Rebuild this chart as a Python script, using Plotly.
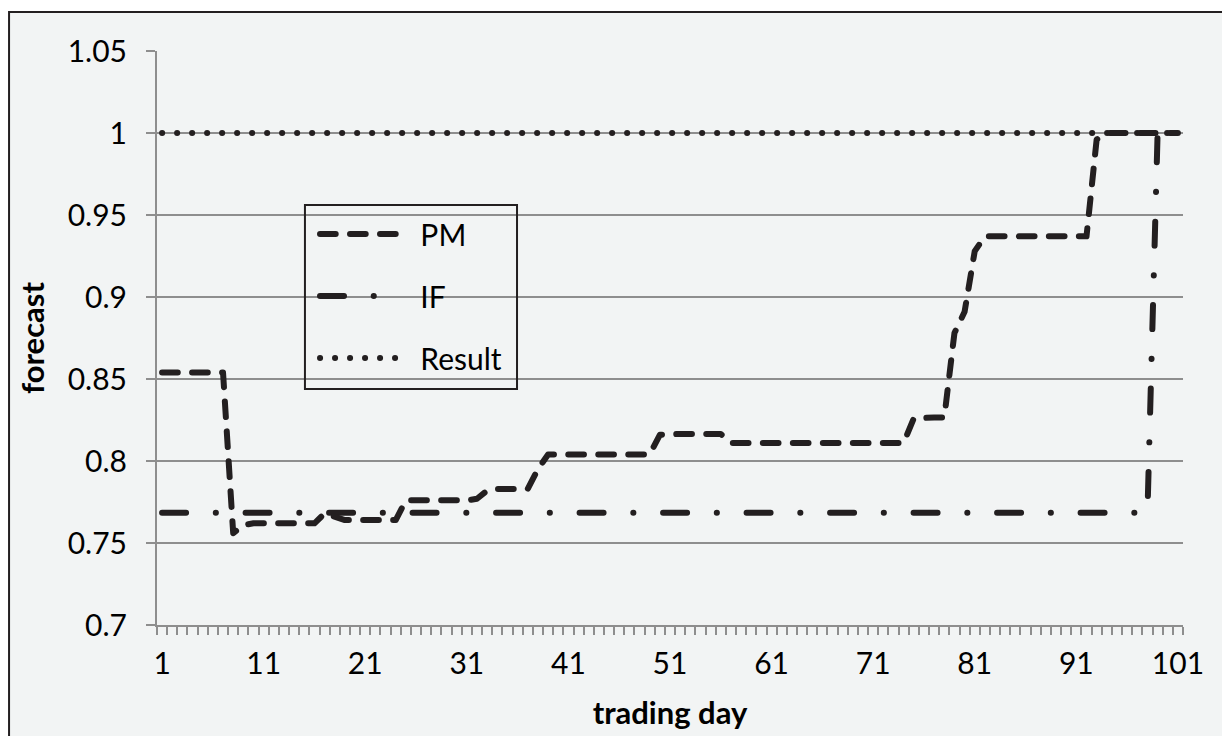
import plotly.graph_objects as go

days = list(range(1, 102))

pm = [0.854, 0.854, 0.854, 0.854, 0.854, 0.854, 0.854, 0.756, 0.761, 0.762,
      0.762, 0.762, 0.762, 0.762, 0.762, 0.762, 0.768, 0.766, 0.764, 0.764,
      0.764, 0.764, 0.764, 0.764, 0.776, 0.776, 0.776, 0.776, 0.776, 0.776,
      0.776, 0.777, 0.782, 0.783, 0.783, 0.783, 0.783, 0.795, 0.804, 0.804,
      0.804, 0.804, 0.804, 0.804, 0.804, 0.804, 0.804, 0.804, 0.804, 0.816,
      0.8165, 0.8165, 0.8165, 0.8165, 0.8165, 0.8165, 0.811, 0.811, 0.811, 0.811,
      0.811, 0.811, 0.811, 0.811, 0.811, 0.811, 0.811, 0.811, 0.811, 0.811,
      0.811, 0.811, 0.811, 0.811, 0.826, 0.8265, 0.8265, 0.8265, 0.878, 0.891,
      0.928, 0.937, 0.937, 0.937, 0.937, 0.937, 0.937, 0.937, 0.937, 0.937,
      0.937, 0.937, 0.996, 1.0, 1.0, 1.0, 1.0, 1.0, 1.0, 1.0,
      1.0]

if_vals = [0.7685, 0.7685, 0.7685, 0.7685, 0.7685, 0.7685, 0.7685, 0.7685, 0.7685, 0.7685,
           0.7685, 0.7685, 0.7685, 0.7685, 0.7685, 0.7685, 0.7685, 0.7685, 0.7685, 0.7685,
           0.7685, 0.7685, 0.7685, 0.7685, 0.7685, 0.7685, 0.7685, 0.7685, 0.7685, 0.7685,
           0.7685, 0.7685, 0.7685, 0.7685, 0.7685, 0.7685, 0.7685, 0.7685, 0.7685, 0.7685,
           0.7685, 0.7685, 0.7685, 0.7685, 0.7685, 0.7685, 0.7685, 0.7685, 0.7685, 0.7685,
           0.7685, 0.7685, 0.7685, 0.7685, 0.7685, 0.7685, 0.7685, 0.7685, 0.7685, 0.7685,
           0.7685, 0.7685, 0.7685, 0.7685, 0.7685, 0.7685, 0.7685, 0.7685, 0.7685, 0.7685,
           0.7685, 0.7685, 0.7685, 0.7685, 0.7685, 0.7685, 0.7685, 0.7685, 0.7685, 0.7685,
           0.7685, 0.7685, 0.7685, 0.7685, 0.7685, 0.7685, 0.7685, 0.7685, 0.7685, 0.7685,
           0.7685, 0.7685, 0.7685, 0.7685, 0.7685, 0.7685, 0.7685, 0.7685, 1.0, 1.0,
           1.0]

result = [1.0, 1.0, 1.0, 1.0, 1.0, 1.0, 1.0, 1.0, 1.0, 1.0,
          1.0, 1.0, 1.0, 1.0, 1.0, 1.0, 1.0, 1.0, 1.0, 1.0,
          1.0, 1.0, 1.0, 1.0, 1.0, 1.0, 1.0, 1.0, 1.0, 1.0,
          1.0, 1.0, 1.0, 1.0, 1.0, 1.0, 1.0, 1.0, 1.0, 1.0,
          1.0, 1.0, 1.0, 1.0, 1.0, 1.0, 1.0, 1.0, 1.0, 1.0,
          1.0, 1.0, 1.0, 1.0, 1.0, 1.0, 1.0, 1.0, 1.0, 1.0,
          1.0, 1.0, 1.0, 1.0, 1.0, 1.0, 1.0, 1.0, 1.0, 1.0,
          1.0, 1.0, 1.0, 1.0, 1.0, 1.0, 1.0, 1.0, 1.0, 1.0,
          1.0, 1.0, 1.0, 1.0, 1.0, 1.0, 1.0, 1.0, 1.0, 1.0,
          1.0, 1.0, 1.0, 1.0, 1.0, 1.0, 1.0, 1.0, 1.0, 1.0,
          1.0]

x_tickvals = [1, 11, 21, 31, 41, 51, 61, 71, 81, 91, 101]
x_ticktext = ["1", "11", "21", "31", "41", "51", "61", "71", "81", "91", "101"]
y_tickvals = [0.7, 0.75, 0.8, 0.85, 0.9, 0.95, 1.0, 1.05]
y_ticktext = ["0.7", "0.75", "0.8", "0.85", "0.9", "0.95", "1", "1.05"]

INK = "#231f20"
GRID = "#8e8e8e"
BG = "#f2f4f4"
FONT = "Lato"
NB = "\u00a0\u00a0"

fig = go.Figure()
fig.add_trace(go.Scatter(x=days, y=result, name=NB + "Result", mode="lines", legendrank=3,
                         legendgroup="c",
                         line=dict(color=INK, width=6, dash="0.1px,14.9px")))
fig.add_trace(go.Scatter(x=days, y=if_vals, name=NB + "IF", mode="lines", legendrank=2,
                         legendgroup="b",
                         line=dict(color=INK, width=6, dash="24px,29.7px,0.1px,29.7px")))
fig.add_trace(go.Scatter(x=days, y=pm, name=NB + "PM", mode="lines", legendrank=1,
                         legendgroup="a",
                         line=dict(color=INK, width=6, dash="15.7px,14.3px")))

fig.update_layout(
    width=1222, height=736,
    margin=dict(l=157, r=39, t=51, b=111),
    paper_bgcolor="white",
    plot_bgcolor=BG,
    font=dict(family=FONT, size=30, color="black"),
    showlegend=True,
    legend=dict(x=0.154, y=0.7265, xanchor="left", yanchor="top",
                bgcolor="rgba(0,0,0,0)", borderwidth=0,
                font=dict(family=FONT, size=30, color="black"),
                traceorder="grouped", tracegroupgap=20, itemwidth=80),
    shapes=[dict(type="rect", xref="paper", yref="paper",
                 x0=-0.1442, x1=1.06, y0=-0.25, y1=1.0679,
                 fillcolor=BG, line=dict(color=INK, width=2), layer="below"),
            dict(type="rect", xref="paper", yref="paper",
                 x0=0.1442, x1=0.3509, y0=0.4111, y1=0.7317,
                 fillcolor="rgba(0,0,0,0)", line=dict(color=INK, width=2), layer="above")],
    xaxis=dict(range=[0.5, 101.5], tickmode="array", tickvals=x_tickvals, ticktext=x_ticktext,
               ticks="", showgrid=False, zeroline=False,
               showline=True, linecolor=GRID, linewidth=2,
               ticklabelstandoff=11,
               minor=dict(tickmode="linear", tick0=0.5, dtick=1, ticks="outside",
                          ticklen=8, tickwidth=2, tickcolor=GRID, showgrid=False),
               title=dict(text="<b>trading day</b>", font=dict(family=FONT, size=31),
                          standoff=23)),
    yaxis=dict(range=[0.7, 1.05], tickmode="array", tickvals=y_tickvals, ticktext=y_ticktext,
               ticks="outside", ticklen=9, tickwidth=2, tickcolor=GRID,
               showgrid=True, gridcolor=GRID, gridwidth=2, zeroline=False,
               showline=True, linecolor=GRID, linewidth=2,
               ticklabelstandoff=13,
               title=dict(text="<b>forecast</b>", font=dict(family=FONT, size=31),
                          standoff=14)),
)

post = """
var st = document.createElement('style');
st.textContent = 'html,body{margin:0 !important;padding:0 !important;} ' +
  'path.js-line{stroke-linecap:round !important;stroke-linejoin:round !important;}';
document.head.appendChild(st);
"""

fig.write_html("out.html", post_script=post, config={"displayModeBar": False})
